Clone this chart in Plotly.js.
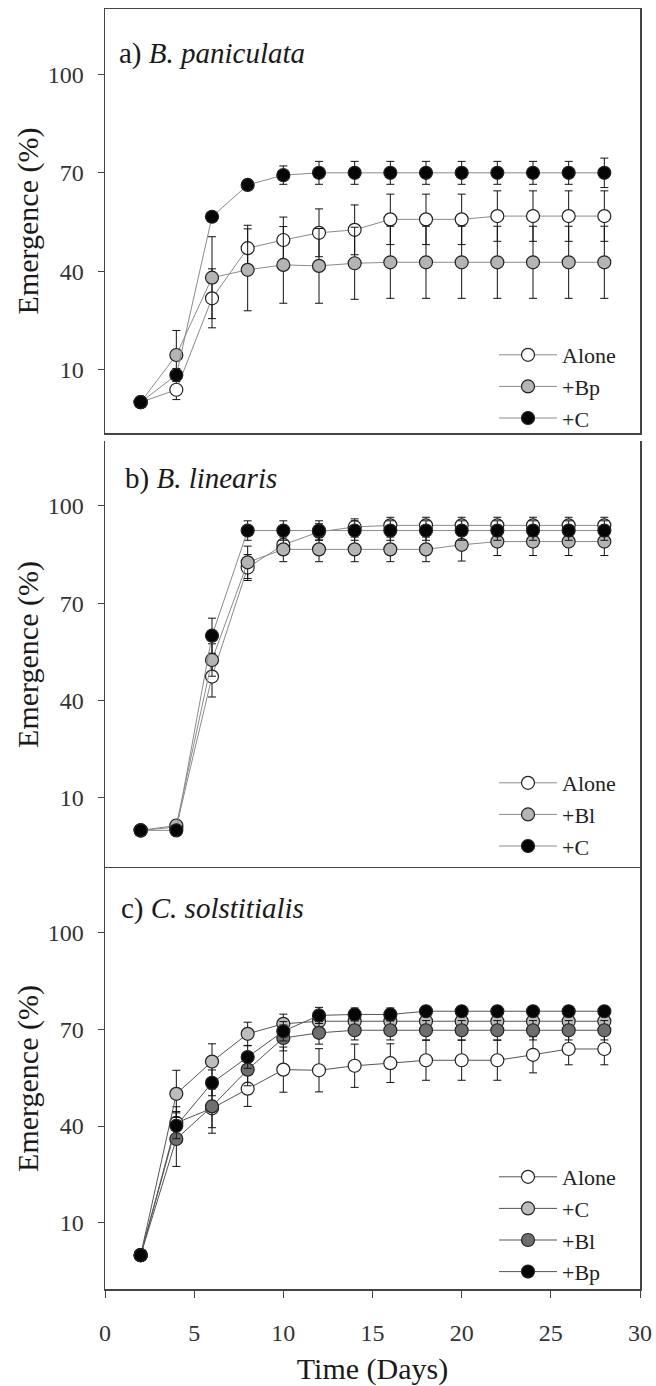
<!DOCTYPE html>
<html>
<head>
<meta charset="utf-8">
<script src="https://cdn.plot.ly/plotly-3.0.1.min.js"></script>
<style>html,body{margin:0;padding:0;background:#fff;}#chart{width:656px;height:1386px;}</style>
</head>
<body>
<div id="chart"></div>
<script>
// ---- Data ----
const days = [2, 4, 6, 8, 10, 12, 14, 16, 18, 20, 22, 24, 26, 28];

// a) B. paniculata
const aAlone    = [0, 3.8, 31.7, 47, 49.5, 51.7, 52.6, 55.8, 55.8, 55.8, 56.8, 56.8, 56.8, 56.8];
const aAloneErr = [0, 3, 9, 7, 7, 7.3, 7.6, 7.7, 7.7, 7.7, 7.7, 7.7, 7.7, 7.7];
const aBp       = [0, 14.4, 38, 40.4, 41.9, 41.6, 42.4, 42.7, 42.7, 42.7, 42.7, 42.7, 42.7, 42.7];
const aBpErr    = [0, 7.5, 12.5, 12.5, 11.7, 11.4, 11, 11, 11, 11, 11, 11, 11, 11];
const aC        = [0, 8.3, 56.6, 66.3, 69.3, 70, 70, 70, 70, 70, 70, 70, 70, 70];
const aCErr     = [0, 2, 0, 1.5, 2.8, 3.5, 3.5, 3.5, 3.5, 3.5, 3.5, 3.5, 3.5, 4.5];

// b) B. linearis
const bAlone    = [0, 1, 47.4, 81, 88, 92, 93.5, 94, 94, 94, 94, 94, 94, 94];
const bAloneErr = [0, 0.5, 6.3, 4, 3, 2.5, 2.5, 2.5, 2.5, 2.5, 2.5, 2.5, 2.5, 2.5];
const bBl       = [0, 1.5, 52.5, 82.6, 86.6, 86.6, 86.6, 86.6, 86.6, 88, 89, 89, 89, 89];
const bBlErr    = [0, 0.5, 5, 5, 3.8, 3.8, 3.8, 3.8, 3.8, 5, 4.3, 4.3, 4.3, 4.3];
const bC        = [0, 0, 60, 92.4, 92.4, 92.4, 92.4, 92.4, 92.4, 92.4, 92.4, 92.4, 92.4, 92.4];
const bCErr     = [0, 0, 5.4, 3, 3, 3, 3, 3, 3, 3, 3, 3, 3, 3];

// c) C. solstitialis
const cAlone    = [0, 41, 45.5, 51.6, 57.5, 57.3, 58.7, 59.5, 60.4, 60.4, 60.4, 62.1, 63.9, 63.9];
const cAloneErr = [0, 5, 6, 5.5, 7, 6.7, 6.7, 6, 6.2, 6.2, 6.2, 5.6, 4.9, 4.9];
const cC        = [0, 50, 60, 68.6, 71.7, 72.5, 72.5, 72.5, 72.5, 72.5, 72.5, 72.5, 72.5, 72.5];
const cCErr     = [0, 7.3, 5.5, 3.6, 3, 2.5, 2.5, 2.5, 2.5, 2.5, 2.5, 2.5, 2.5, 2.5];
const cBl       = [0, 36, 46.1, 57.5, 67.3, 68.9, 69.7, 69.7, 69.7, 69.7, 69.7, 69.7, 69.7, 69.7];
const cBlErr    = [0, 8.5, 8.3, 5, 4, 3.5, 3, 3, 3, 3, 3, 3, 3, 3];
const cBp       = [0, 40.1, 53.4, 61.4, 69.4, 74.3, 74.6, 74.6, 75.6, 75.6, 75.6, 75.6, 75.6, 75.6];
const cBpErr    = [0, 4, 4, 3.5, 3, 2.5, 2, 2, 1.5, 1.5, 1.5, 1.5, 1.5, 1.5];

const yTicks = [10, 40, 70, 100];
const xTicks = [0, 5, 10, 15, 20, 25, 30];
const panelTitles = ['a) <i>B. paniculata</i>', 'b) <i>B. linearis</i>', 'c) <i>C. solstitialis</i>'];
const yTitle = 'Emergence (%)';
const xTitle = 'Time (Days)';

// ---- Styling ----
const FONT = 'Liberation Serif';
const WHITE = '#ffffff', LIGHT = '#b4b4b4', DARK = '#6e6e6e', BLACK = '#050505';

function series(name, y, err, fill, xa, ya, leg, lineColor) {
  return {
    type: 'scatter', mode: 'lines+markers', name: name,
    x: days, y: y, xaxis: xa, yaxis: ya, legend: leg,
    line: {color: lineColor, width: 1},
    marker: {symbol: 'circle', size: 13, color: fill, line: {color: '#222', width: 1.2}},
    error_y: {type: 'data', array: err, visible: true, color: '#111', thickness: 1, width: 4},
    hoverinfo: 'skip'
  };
}

const data = [
  series('Alone', aAlone, aAloneErr, WHITE, 'x', 'y', 'legend', '#8a8a8a'),
  series('+Bp', aBp, aBpErr, LIGHT, 'x', 'y', 'legend', '#8a8a8a'),
  series('+C', aC, aCErr, BLACK, 'x', 'y', 'legend', '#8a8a8a'),

  series('Alone', bAlone, bAloneErr, WHITE, 'x2', 'y2', 'legend2', '#8a8a8a'),
  series('+Bl', bBl, bBlErr, LIGHT, 'x2', 'y2', 'legend2', '#8a8a8a'),
  series('+C', bC, bCErr, BLACK, 'x2', 'y2', 'legend2', '#8a8a8a'),

  series('Alone', cAlone, cAloneErr, WHITE, 'x3', 'y3', 'legend3', '#555555'),
  series('+C', cC, cCErr, '#bdbdbd', 'x3', 'y3', 'legend3', '#555555'),
  series('+Bl', cBl, cBlErr, DARK, 'x3', 'y3', 'legend3', '#555555'),
  series('+Bp', cBp, cBpErr, BLACK, 'x3', 'y3', 'legend3', '#555555')
];

const tickFont = {family: FONT, size: 24, color: '#333'};
const titleFont = {family: FONT, size: 30, color: '#1a1a1a'};

function yaxis(domain, range, anchor) {
  return {
    domain: domain, range: range, anchor: anchor,
    tickmode: 'array', tickvals: yTicks, ticks: 'outside', ticklen: 6, tickcolor: '#444',
    ticklabelstandoff: 9, tickfont: tickFont,
    showline: true, mirror: true, linecolor: '#444', linewidth: 1.5,
    showgrid: false, zeroline: false, fixedrange: true,
    title: {text: yTitle, font: titleFont, standoff: 0}
  };
}

const H = 1280, T = 9;
function py(pix) { return 1 - (pix - T) / H; }
function px(pix) { return (pix - 105) / 535; }

function legendAt(xPix, yPix) {
  return {
    font: {family: FONT, size: 22, color: '#222'},
    bgcolor: 'rgba(0,0,0,0)', borderwidth: 0,
    xanchor: 'left', yanchor: 'top', traceorder: 'normal', itemwidth: 58,
    x: px(xPix), y: py(yPix)
  };
}

const layout = {
  width: 656, height: 1386,
  margin: {l: 105, r: 16, t: 9, b: 97},
  paper_bgcolor: '#fff', plot_bgcolor: '#fff',
  font: {family: FONT, color: '#222'},
  showlegend: true,
  xaxis: {domain: [0, 1], range: [0, 30], anchor: 'y', showticklabels: false, ticks: '',
          showline: true, mirror: true, linecolor: '#444', linewidth: 1.5,
          showgrid: false, zeroline: false, fixedrange: true},
  xaxis2: {domain: [0, 1], range: [0, 30], anchor: 'y2', showticklabels: false, ticks: '',
           showline: false, showgrid: false, zeroline: false, fixedrange: true},
  xaxis3: {domain: [0, 1], range: [0, 30], anchor: 'y3',
           tickmode: 'array', tickvals: xTicks, ticks: 'outside', ticklen: 7, tickcolor: '#444',
           ticklabelstandoff: 15, tickfont: tickFont,
           showline: true, mirror: true, linecolor: '#444', linewidth: 1.5,
           showgrid: false, zeroline: false, fixedrange: true,
           title: {text: xTitle, font: titleFont, standoff: 20}},
  yaxis: yaxis([py(433), 1], [-9.4, 120], 'x'),
  yaxis2: yaxis([py(868), py(441)], [-11.6, 120], 'x2'),
  yaxis3: yaxis([0, py(868)], [-10.5, 120], 'x3'),
  legend: legendAt(494, 334),
  legend2: legendAt(494, 762),
  legend3: legendAt(494, 1156),
  annotations: [
    {text: panelTitles[0], xref: 'paper', yref: 'paper', x: px(117), y: py(53), xanchor: 'left', yanchor: 'middle', showarrow: false, font: {family: FONT, size: 29, color: '#1a1a1a'}},
    {text: panelTitles[1], xref: 'paper', yref: 'paper', x: px(123), y: py(478), xanchor: 'left', yanchor: 'middle', showarrow: false, font: {family: FONT, size: 29, color: '#1a1a1a'}},
    {text: panelTitles[2], xref: 'paper', yref: 'paper', x: px(119), y: py(908), xanchor: 'left', yanchor: 'middle', showarrow: false, font: {family: FONT, size: 29, color: '#1a1a1a'}}
  ]
};

Plotly.newPlot('chart', data, layout, {staticPlot: true, displayModeBar: false});
</script>
</body>
</html>
